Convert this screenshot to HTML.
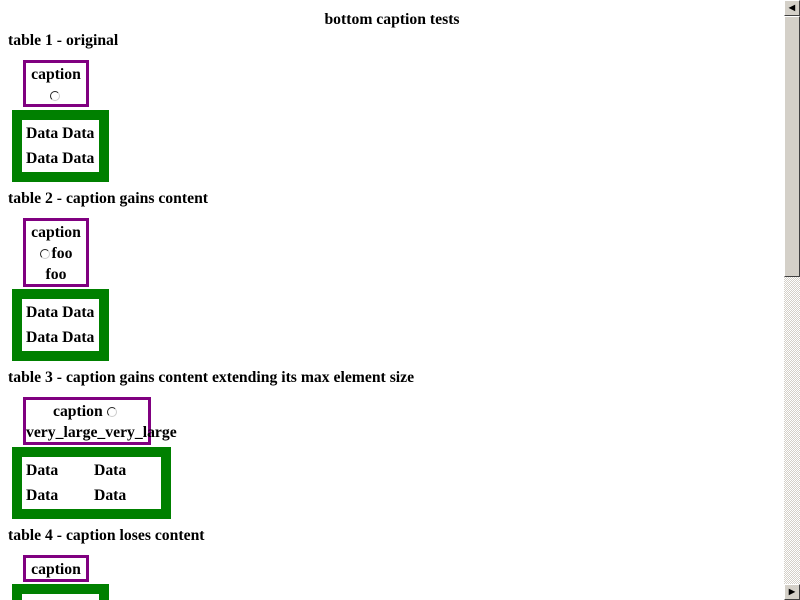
<!DOCTYPE html>
<html style="overflow:hidden;height:600px"><head><meta charset="utf-8"><style>
body{margin:0;width:800px;height:600px;overflow:hidden;background:#fff;position:relative;font-family:"Liberation Serif",serif;font-weight:bold;font-size:15.7px;color:#000}
.a{position:absolute;white-space:nowrap;line-height:18px}
.cap{position:absolute;border:3px solid #800080;box-sizing:border-box}
.tb{position:absolute;border:10px solid #008000;box-sizing:border-box;background:#fff}
.r{display:inline-block;width:10px;height:10px;border-radius:50%;border:1.5px solid;border-color:#222 #ccc #ccc #222;background:#fff;vertical-align:-1px;box-sizing:border-box;margin-right:2px}
.sb{position:absolute;left:784px;top:0;width:16px;height:600px;background:repeating-conic-gradient(#d4d0c8 0 25%,#fff 0 50%) 0 0/2px 2px}
.btn{position:absolute;left:784px;width:16px;height:16px;background:#d4d0c8;box-sizing:border-box;border:1px solid;border-color:#fff #404040 #404040 #fff;font-size:8px;line-height:14px;text-align:center}
</style></head><body>
<div class="a" style="left:0;width:784px;text-align:center;top:11px">bottom caption tests</div>

<div class="a" style="left:8px;top:32px">table 1 - original</div>
<div class="cap" style="left:23px;top:60px;width:66px;height:47px"></div>
<div class="a" style="left:23px;width:66px;text-align:center;top:66px">caption</div>
<div class="a" style="left:23px;width:66px;text-align:center;top:87px"><span class="r"></span></div>
<div class="tb" style="left:12px;top:110px;width:97px;height:72px"></div>
<div class="a" style="left:26px;top:125px">Data Data</div>
<div class="a" style="left:26px;top:150px">Data Data</div>

<div class="a" style="left:8px;top:190px">table 2 - caption gains content</div>
<div class="cap" style="left:23px;top:218px;width:66px;height:69px"></div>
<div class="a" style="left:23px;width:66px;text-align:center;top:224px">caption</div>
<div class="a" style="left:23px;width:66px;text-align:center;top:245px"><span class="r"></span>foo</div>
<div class="a" style="left:23px;width:66px;text-align:center;top:266px">foo</div>
<div class="tb" style="left:12px;top:289px;width:97px;height:72px"></div>
<div class="a" style="left:26px;top:304px">Data Data</div>
<div class="a" style="left:26px;top:329px">Data Data</div>

<div class="a" style="left:8px;top:369px">table 3 - caption gains content extending its max element size</div>
<div class="cap" style="left:23px;top:397px;width:128px;height:48px"></div>
<div class="a" style="left:53px;top:403px">caption <span class="r"></span></div>
<div class="a" style="left:26px;top:424px">very_large_very_large</div>
<div class="tb" style="left:12px;top:447px;width:159px;height:72px"></div>
<div class="a" style="left:26px;top:462px">Data</div>
<div class="a" style="left:94px;top:462px">Data</div>
<div class="a" style="left:26px;top:487px">Data</div>
<div class="a" style="left:94px;top:487px">Data</div>

<div class="a" style="left:8px;top:527px">table 4 - caption loses content</div>
<div class="cap" style="left:23px;top:555px;width:66px;height:27px"></div>
<div class="a" style="left:23px;width:66px;text-align:center;top:561px">caption</div>
<div class="tb" style="left:12px;top:584px;width:97px;height:16px;border-bottom:0"></div>

<div class="sb"></div>
<div class="btn" style="top:0">&#9664;</div>
<div class="btn" style="top:16px;height:261px"></div>
<div class="btn" style="top:584px">&#9654;</div>
</body></html>
